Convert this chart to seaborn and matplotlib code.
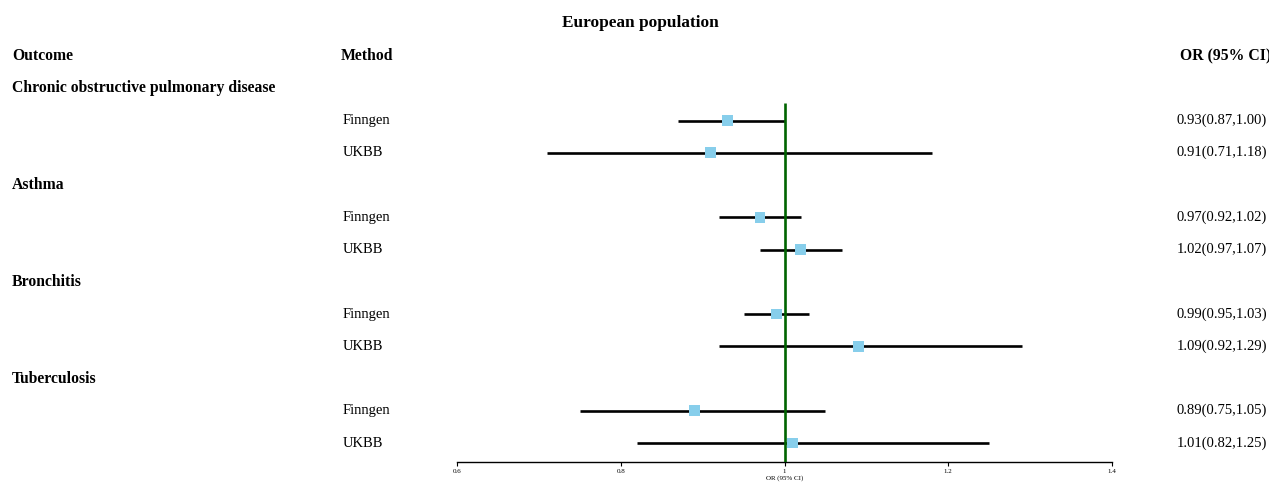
#! /usr/bin/env python
"""
Forest plot of OR (95% CI) by outcome for the European population
"""

import pandas as pd
import seaborn as sns
import matplotlib.pyplot as plt
from matplotlib.transforms import blended_transform_factory

outcomes = [
    "Chronic obstructive pulmonary disease",
    "Asthma",
    "Bronchitis",
    "Tuberculosis",
]
methods = ["Finngen", "UKBB"]
or_values = [0.93, 0.91, 0.97, 1.02, 0.99, 1.09, 0.89, 1.01]
ci_lower = [0.87, 0.71, 0.92, 0.97, 0.95, 0.92, 0.75, 0.82]
ci_upper = [1.00, 1.18, 1.02, 1.07, 1.03, 1.29, 1.05, 1.25]
x_ticks = [0.6, 0.8, 1.0, 1.2, 1.4]
x_tick_labels = ["0.6", "0.8", "1", "1.2", "1.4"]


def build_rows():
    """One row per estimate, with its line position in the table"""
    records = []
    heading_rows = []
    row = 1  # row 0 is the column header
    i = 0
    for outcome in outcomes:
        heading_rows.append(row)
        row += 1
        for method in methods:
            records.append(
                {
                    "Outcome": outcome,
                    "Method": method,
                    "OR": or_values[i],
                    "Lower": ci_lower[i],
                    "Upper": ci_upper[i],
                    "Row": row,
                }
            )
            row += 1
            i += 1
    return pd.DataFrame.from_records(records), heading_rows


def run() -> None:
    df, heading_rows = build_rows()

    sns.set_style("white")
    plt.rcParams["font.family"] = ["Liberation Serif", "DejaVu Serif"]
    plt.rcParams["text.color"] = "black"
    plt.rcParams["axes.labelcolor"] = "black"
    plt.rcParams["xtick.color"] = "black"

    fig = plt.figure(figsize=(12.69, 4.82), dpi=100)
    ax = fig.add_axes([457 / 1269, 20 / 482, 655 / 1269, 422 / 482])
    y_bottom = (462 - 56) / 32.25
    y_top = (40 - 56) / 32.25

    ax.hlines(df["Row"], df["Lower"], df["Upper"], color="black", lw=1.9, zorder=2)
    ax.vlines(1.0, 1.45, y_bottom, color="#006400", lw=1.9, zorder=3)
    sns.scatterplot(
        data=df, x="OR", y="Row", marker="s", s=60, color="#87CEEB",
        edgecolor="none", linewidth=0, ax=ax, zorder=4,
    )

    ax.set_xlim(0.6, 1.4)
    ax.set_ylim(y_bottom, y_top)
    for side in ["top", "right", "left"]:
        ax.spines[side].set_visible(False)
    ax.spines["bottom"].set_linewidth(1.0)
    ax.spines["bottom"].set_color("black")
    ax.set_yticks([])
    ax.set_ylabel("")
    ax.set_xticks(x_ticks)
    ax.set_xticklabels(x_tick_labels)
    ax.tick_params(axis="x", direction="out", length=3, width=0.8, pad=2,
                   labelsize=5, bottom=True, color="black")
    ax.set_xlabel("OR (95% CI)", fontsize=5, labelpad=1)

    tr = blended_transform_factory(fig.transFigure, ax.transData)
    fs = 10.5
    fs_bold = 11.35
    ax.text(0.5045, -1.03, "European population", transform=tr, ha="center",
            va="center", fontsize=12.4, fontweight="bold")
    ax.text(12 / 1269, 0, "Outcome", transform=tr, ha="left", va="center",
            fontsize=fs_bold, fontweight="bold")
    ax.text(341 / 1269, 0, "Method", transform=tr, ha="left", va="center",
            fontsize=fs_bold, fontweight="bold")
    ax.text(1271 / 1269, 0, "OR (95% CI)", transform=tr, ha="right",
            va="center", fontsize=fs_bold, fontweight="bold")
    for outcome, r in zip(outcomes, heading_rows):
        ax.text(12 / 1269, r, outcome, transform=tr, ha="left", va="center",
                fontsize=fs_bold, fontweight="bold")
    for _, rec in df.iterrows():
        ax.text(343 / 1269, rec["Row"], rec["Method"], transform=tr,
                ha="left", va="center", fontsize=fs)
        label = f"{rec['OR']:.2f}({rec['Lower']:.2f},{rec['Upper']:.2f})"
        ax.text(1267 / 1269, rec["Row"], label, transform=tr, ha="right",
                va="center", fontsize=fs)

    if ax.get_legend() is not None:
        ax.get_legend().remove()
    fig.savefig("out.png", dpi=100)


if __name__ == "__main__":
    run()
